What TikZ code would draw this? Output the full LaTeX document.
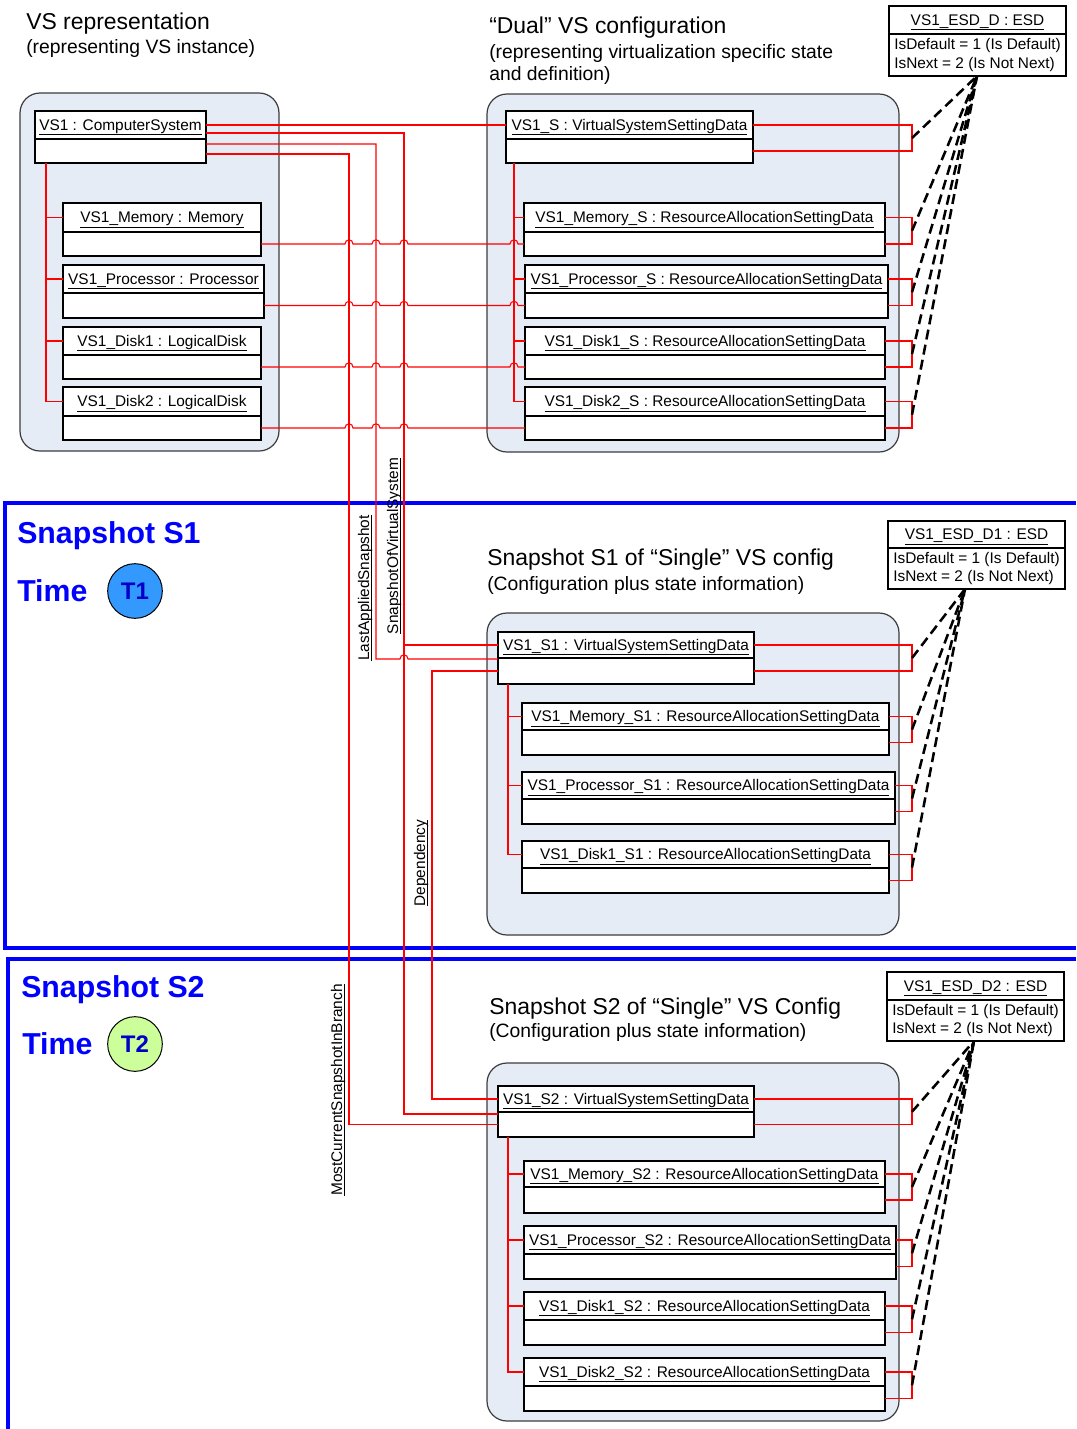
\documentclass[tikz,border=0pt]{standalone}
\usepackage{fontspec}
\setmainfont{Liberation Sans}
\usetikzlibrary{fit,calc}
\definecolor{contfill}{RGB}{230,236,246}
\definecolor{contline}{RGB}{60,60,60}
\definecolor{tonefill}{RGB}{51,153,255}
\definecolor{ttwofill}{RGB}{204,255,153}
\definecolor{redl}{RGB}{255,0,0}
\definecolor{bluef}{RGB}{0,0,255}
\definecolor{tblue}{RGB}{0,0,200}
\newsavebox\ulbox
\newcommand\ul[1]{\leavevmode\sbox\ulbox{#1}\rlap{\rule[-3.4pt]{\wd\ulbox}{0.65pt}}\usebox\ulbox}
\newcommand\ull[1]{\leavevmode\sbox\ulbox{#1}\rlap{\rule[-2pt]{\wd\ulbox}{0.65pt}}\usebox\ulbox}
\newcommand\bxf{\fontsize{11.55pt}{13.7pt}\selectfont}
\newcommand\hdf{\fontsize{17.2pt}{20pt}\selectfont}
\newcommand\sbf{\fontsize{14.5pt}{17pt}\selectfont}
\newcommand\snf{\fontsize{22.7pt}{26pt}\selectfont\bfseries}
\newcommand\tmf{\fontsize{18pt}{21pt}\selectfont\bfseries}
\tikzset{
  redline/.style={draw=redl, line width=0.8pt},
  container/.style={draw=contline, fill=contfill, line width=0.9pt, rounded corners=15pt, inner sep=0pt, outer sep=0pt},
  ttl/.style={draw=black, fill=white, line width=1pt, inner sep=0pt, outer sep=0pt, font=\bxf, text height=8.2pt, text depth=0pt, anchor=north west},
  bdy/.style={draw=black, fill=white, line width=1pt, inner sep=0pt, outer sep=0pt, anchor=north west},
  dashline/.style={draw=black, line width=1.9pt, dash pattern=on 7.5pt off 4pt},
  blueframe/.style={draw=bluef, line width=3pt},
  lbl/.style={font=\bxf, rotate=90, anchor=base, inner sep=0pt},
  hdtxt/.style={font=\hdf, anchor=base west, inner sep=0pt},
  subtxt/.style={font=\sbf, anchor=base west, inner sep=0pt},
  sntxt/.style={font=\snf, text=bluef, anchor=base west, inner sep=0pt},
  tcirc/.style={circle, draw=black, line width=0.75pt, minimum size=41pt, inner sep=0pt, font=\tmf, text=tblue},
  hop/.style 2 args={insert path={-- ({#1-4},{#2}) .. controls ({#1-4},{#2-5.5}) and ({#1+4},{#2-5.5}) .. ({#1+4},{#2})}}
}
\newcommand\umlobj[7]{%
  \node[ttl, minimum width={(#4-#2)*0.75pt}, minimum height={(#5-#3)*0.75pt}] (#1) at (#2,#3) {\ul{#7}};
  \node[bdy, minimum width={(#4-#2)*0.75pt}, minimum height={(#6-#5)*0.75pt}] (#1-b) at (#2,#5) {};}
\newcommand\esdobj[7]{%
  \node[ttl, minimum width={(#4-#2)*0.75pt}, minimum height={(#5-#3)*0.75pt}] (#1) at (#2,#3) {\ul{#7}};
  \node[bdy, minimum width={(#4-#2)*0.75pt}, minimum height={(#6-#5)*0.75pt}, font=\bxf, align=left] (#1-b) at (#2,#5) {IsDefault = 1 (Is Default)\\IsNext = 2 (Is Not Next)};}
\newcommand\bracketto[2]{%
  \coordinate (#1-p) at (912,0 |- #1.east);
  \coordinate (#1-q) at (912,0 |- #1-b.east);
  \draw[redline] (#1.east) -- (#1-p) -- (#1-q) -- (#1-b.east);
  \draw[dashline] ($(#1-p)!0.5!(#1-q)$) -- (#2);}
\begin{document}
\begin{tikzpicture}[x=0.75pt,y=-0.75pt]
\fill[white] (0,0) rectangle (1076,1429);
\useasboundingbox (0,0) rectangle (1076,1429);

% snapshot frames
\draw[blueframe] (1076,503) -- (5,503) -- (5,948) -- (1076,948);
\draw[blueframe] (1076,959) -- (8,959) -- (8,1429);

% headings
\node[hdtxt] (h0) at (26,29) {VS representation};
\node[subtxt] (s0) at (26,53) {(representing VS instance)};
\node[hdtxt] (h1) at (489,33) {“Dual” VS configuration};
\node[subtxt] (s1a) at (489,58) {(representing virtualization specific state};
\node[subtxt] (s1b) at (489,80) {and definition)};
\node[hdtxt] (h2) at (487,565) {Snapshot S1 of “Single” VS config};
\node[subtxt] (s2) at (487,590) {(Configuration plus state information)};
\node[hdtxt] (h3) at (489,1014) {Snapshot S2 of “Single” VS Config};
\node[subtxt] (s3) at (489,1037) {(Configuration plus state information)};

\node[sntxt] (sn1) at (17,543) {Snapshot S1};
\node[sntxt] (tm1) at (17,601) {Time};
\node[tcirc, fill=tonefill] (t1) at (135,591) {T1};
\node[sntxt] (sn2) at (21,997) {Snapshot S2};
\node[sntxt] (tm2) at (22,1054) {Time};
\node[tcirc, fill=ttwofill] (t2) at (135,1044) {T2};

% containers
\node[container, fit={(20,93) (279,451)}] (cl) {};
\node[container, fit={(487,94) (899,452)}] (cr) {};
\node[container, fit={(487,613) (899,935)}] (c1) {};
\node[container, fit={(487,1063) (899,1421)}] (c2) {};

% VS representation
\umlobj{cs}{35}{111}{206}{139}{163}{VS1 : ComputerSystem}
\umlobj{mem}{63}{203}{261}{232}{256}{VS1\_Memory : Memory}
\umlobj{pro}{63}{265}{264}{293}{318}{VS1\_Processor : Processor}
\umlobj{dka}{63}{327}{261}{355}{379}{VS1\_Disk1 : LogicalDisk}
\umlobj{dkb}{63}{387}{261}{416}{440}{VS1\_Disk2 : LogicalDisk}

% Dual VS configuration
\umlobj{vss}{506}{111}{753}{139}{163}{VS1\_S : VirtualSystemSettingData}
\umlobj{mems}{524}{203}{885}{232}{256}{VS1\_Memory\_S : ResourceAllocationSettingData}
\umlobj{pros}{525}{265}{888}{293}{318}{VS1\_Processor\_S : ResourceAllocationSettingData}
\umlobj{dkas}{525}{327}{885}{355}{379}{VS1\_Disk1\_S : ResourceAllocationSettingData}
\umlobj{dkbs}{525}{387}{885}{416}{440}{VS1\_Disk2\_S : ResourceAllocationSettingData}

% Snapshot S1
\umlobj{vsa}{498}{632}{754}{658}{684}{VS1\_S1 : VirtualSystemSettingData}
\umlobj{mema}{522}{703}{889}{730}{755}{VS1\_Memory\_S1 : ResourceAllocationSettingData}
\umlobj{proa}{522}{772}{895}{799}{824}{VS1\_Processor\_S1 : ResourceAllocationSettingData}
\umlobj{dkaa}{522}{841}{889}{868}{893}{VS1\_Disk1\_S1 : ResourceAllocationSettingData}

% Snapshot S2
\umlobj{vsz}{498}{1086}{754}{1112}{1137}{VS1\_S2 : VirtualSystemSettingData}
\umlobj{memz}{524}{1161}{885}{1187}{1213}{VS1\_Memory\_S2 : ResourceAllocationSettingData}
\umlobj{proz}{524}{1226}{896}{1254}{1279}{VS1\_Processor\_S2 : ResourceAllocationSettingData}
\umlobj{dkaz}{524}{1292}{885}{1320}{1345}{VS1\_Disk1\_S2 : ResourceAllocationSettingData}
\umlobj{dkbz}{524}{1358}{885}{1386}{1411}{VS1\_Disk2\_S2 : ResourceAllocationSettingData}

% ESD objects
\esdobj{esd0}{889}{6}{1066}{34}{76}{VS1\_ESD\_D : ESD}
\esdobj{esd1}{888}{521}{1065}{548}{589}{VS1\_ESD\_D1 : ESD}
\esdobj{esd2}{887}{972}{1064}{1000}{1041}{VS1\_ESD\_D2 : ESD}
\coordinate (g0) at (977,0 |- esd0-b.south);
\coordinate (g1) at (965,0 |- esd1-b.south);
\coordinate (g2) at (974,0 |- esd2-b.south);

% component trees
\draw[redline] (cs-b.south -| 46,0) -- (46,0 |- dkb.west) -- (dkb.west);
\foreach \n in {mem,pro,dka} {\draw[redline] (46,0 |- \n.west) -- (\n.west);}
\draw[redline] (vss-b.south -| 514,0) -- (514,0 |- dkbs.west) -- (dkbs.west);
\foreach \n in {mems,pros,dkas} {\draw[redline] (514,0 |- \n.west) -- (\n.west);}
\draw[redline] (vsa-b.south -| 508,0) -- (508,0 |- dkaa.west) -- (dkaa.west);
\foreach \n in {mema,proa} {\draw[redline] (508,0 |- \n.west) -- (\n.west);}
\draw[redline] (vsz-b.south -| 508,0) -- (508,0 |- dkbz.west) -- (dkbz.west);
\foreach \n in {memz,proz,dkaz} {\draw[redline] (508,0 |- \n.west) -- (\n.west);}

% associations from the computer system
\draw[redline] (cs.east) -- (vss.west);
\draw[redline] (cs.east |- 0,133) -- (404,133) -- (404,1114) -- (vsz.west |- 0,1114);
\draw[redline] (404,0 |- vsa.west) -- (vsa.west);
\draw[redline] (cs-b.east |- 0,144) -- (376,144) -- (376,659) [hop={404}{659}] -- (vsa-b.west |- 0,659);
\draw[redline] (cs-b.east |- 0,154) -- (349,154) -- (349,0 |- vsz-b.west) -- (vsz-b.west);
\draw[redline] (vsa-b.west) -- (432,0 |- vsa-b.west) -- (432,0 |- vsz.west) -- (vsz.west);

% element to setting lines
\draw[redline] (mem-b.east) [hop={349}{244}] [hop={376}{244}] [hop={404}{244}] [hop={514}{244}] -- (mems-b.west);
\draw[redline] (pro-b.east) [hop={349}{305.5}] [hop={376}{305.5}] [hop={404}{305.5}] [hop={514}{305.5}] -- (pros-b.west);
\draw[redline] (dka-b.east) [hop={349}{367}] [hop={376}{367}] [hop={404}{367}] [hop={514}{367}] -- (dkas-b.west);
\draw[redline] (dkb-b.east) [hop={349}{428}] [hop={376}{428}] [hop={404}{428}] -- (dkbs-b.west);

% brackets and ESD links
\foreach \n in {vss,mems,pros,dkas,dkbs} {\bracketto{\n}{g0}}
\foreach \n in {vsa,mema,proa,dkaa} {\bracketto{\n}{g1}}
\foreach \n in {vsz,memz,proz,dkaz,dkbz} {\bracketto{\n}{g2}}

% connector labels
\node[lbl] (l1) at (398,546) {\ull{SnapshotOfVirtualSystem}};
\node[lbl] (l2) at (369,588) {\ull{LastAppliedSnapshot}};
\node[lbl] (l3) at (425,863) {\ull{Dependency}};
\node[lbl] (l4) at (342,1090) {\ull{MostCurrentSnapshotInBranch}};
\end{tikzpicture}
\end{document}
